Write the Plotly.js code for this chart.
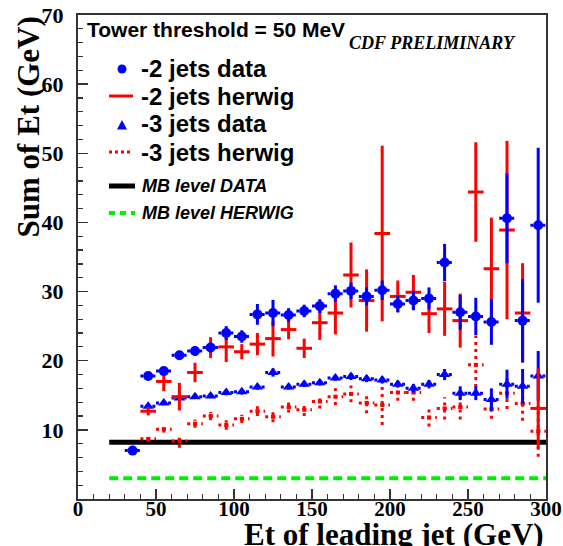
<!DOCTYPE html>
<html>
<head>
<meta charset="utf-8">
<script src="https://cdn.plot.ly/plotly-3.0.1.min.js"></script>
<style>html,body{margin:0;padding:0;background:#fff;}#chart{width:563px;height:546px;}</style>
</head>
<body>
<div id="chart"></div>
<script>
// ---- data ----
var xJets2Data = [35,45,55,65,75,85,95,105,115,125,135,145,155,165,175,185,195,205,215,225,235,245,255,265,275,285,295];
var jets2Data = [7.0,17.8,18.5,20.8,21.4,21.9,24.0,23.5,26.7,26.9,26.6,27.2,27.9,29.7,30.1,29.3,30.2,28.2,28.7,29.0,34.2,27.0,26.4,25.6,40.6,25.8,39.6];
var jets2DataErr = [0.5,0.5,0.6,0.6,0.7,0.7,1.0,0.9,1.5,1.9,1.0,0.9,1.0,1.2,1.2,1.3,1.4,1.2,1.4,1.6,2.7,2.5,2.7,3.3,6.5,6.0,11.2];

var xBins = [45,55,65,75,85,95,105,115,125,135,145,155,165,175,185,195,205,215,225,235,245,255,265,275,285,295];
var jets2Herwig = [12.7,17.0,14.8,18.3,21.9,22.0,21.3,22.4,23.2,24.5,21.8,25.5,26.9,32.4,28.7,38.4,29.3,29.9,26.8,27.5,25.8,44.4,33.3,38.9,26.9,13.1];
var jets2HerwigErr = [0.6,1.4,2.0,1.4,1.5,2.2,1.1,1.6,2.6,1.4,1.4,2.5,3.1,4.7,4.5,12.7,2.3,2.5,2.8,3.9,3.9,7.2,7.4,12.9,7.2,5.8];

var jets3Data = [13.4,13.9,14.6,14.8,14.9,15.4,15.5,16.2,18.3,16.2,16.6,16.8,17.5,17.7,17.4,17.2,16.6,16.0,16.6,18.0,15.3,15.3,14.4,16.6,16.3,17.8];
var jets3DataErr = [0.3,0.3,0.3,0.3,0.3,0.4,0.4,0.4,0.6,0.4,0.4,0.4,0.4,0.5,0.5,0.5,0.5,0.6,0.6,0.8,1.0,1.0,1.6,2.1,2.5,3.6];

var jets3Herwig = [8.7,10.1,8.4,10.9,12.0,10.7,11.6,12.7,11.9,13.3,12.9,14.1,14.8,15.2,13.9,13.6,15.4,15.4,11.8,13.1,13.3,19.4,13.0,15.3,13.8,9.8];
var jets3HerwigErr = [0.4,0.5,1.0,0.6,0.6,0.7,0.6,0.7,0.8,0.8,0.9,1.0,1.2,1.2,1.5,2.9,1.2,1.2,1.3,1.6,1.8,4.2,1.4,2.3,2.5,3.7];

var binHalfWidth = 5;
var mbX = [20, 300];
var mbLevelData = [8.2, 8.2];
var mbLevelHerwig = [3.0, 3.0];

var xTickVals = [0,50,100,150,200,250,300];
var yTickVals = [10,20,30,40,50,60,70];

// ---- helpers building segment paths from the data ----
function hSegs(xs, ys, half){
  var X=[],Y=[];
  for(var i=0;i<xs.length;i++){X.push(xs[i]-half,xs[i]+half,null);Y.push(ys[i],ys[i],null);}
  return {x:X,y:Y};
}
function vSegs(xs, ys, errs){
  var X=[],Y=[];
  for(var i=0;i<xs.length;i++){X.push(xs[i],xs[i],null);Y.push(ys[i]-errs[i],ys[i]+errs[i],null);}
  return {x:X,y:Y};
}

var BLUE='#0000ff', RED='#ff0000';

var h2 = hSegs(xJets2Data, jets2Data, binHalfWidth);
var h3 = hSegs(xBins, jets3Data, binHalfWidth);
var hh3 = hSegs(xBins, jets3Herwig, binHalfWidth);
var vh3 = vSegs(xBins, jets3Herwig, jets3HerwigErr);

var traces = [
  {x:mbX, y:mbLevelHerwig, mode:'lines', name:'MB level HERWIG', line:{color:'#00ee00', width:4, dash:'9px,5px'}},
  {x:mbX, y:mbLevelData, mode:'lines', name:'MB level DATA', line:{color:'#000000', width:5}},
  {x:hh3.x.concat(vh3.x), y:hh3.y.concat(vh3.y), mode:'lines', name:'-3 jets herwig bars', line:{color:RED, width:3, dash:'3px,4px'}, connectgaps:false},
  {x:xBins, y:jets3Herwig, mode:'markers', name:'-3 jets herwig', marker:{symbol:'square', size:4, color:RED}},
  {x:h3.x, y:h3.y, mode:'lines', name:'-3 jets data bars', line:{color:BLUE, width:3, dash:'3px,3px'}},
  {x:xBins, y:jets3Data, mode:'markers', name:'-3 jets data', marker:{symbol:'triangle-up', size:10, color:BLUE},
   error_y:{type:'data', array:jets3DataErr, color:BLUE, thickness:3, width:0}},
  {x:xBins, y:jets2Herwig, mode:'markers', name:'-2 jets herwig', marker:{size:1, color:RED, opacity:0},
   error_x:{type:'constant', value:binHalfWidth, color:RED, thickness:3, width:0},
   error_y:{type:'data', array:jets2HerwigErr, color:RED, thickness:3, width:0}},
  {x:h2.x, y:h2.y, mode:'lines', name:'-2 jets data bars', line:{color:BLUE, width:3, dash:'3px,3px'}},
  {x:xJets2Data, y:jets2Data, mode:'markers', name:'-2 jets data', marker:{symbol:'circle', size:10, color:BLUE},
   error_y:{type:'data', array:jets2DataErr, color:BLUE, thickness:3, width:0}}
];

// pixel -> paper helpers for legend placement
var L=78, T=15, PW=468, PH=484;
function px(p){return (p-L)/PW;}
function py(p){return (T+PH-p)/PH;}

var sans = 'Liberation Sans, Arial, sans-serif';
var serif = 'Liberation Serif, Times New Roman, serif';

function txt(t, x, y, size, italic, family){
  return {text:t, xref:'paper', yref:'paper', x:px(x), y:py(y), xanchor:'left', yanchor:'middle', showarrow:false,
    font:{family:family||sans, size:size, color:'#000', weight:'bold', style:italic?'italic':'normal'}};
}

var annotations = [
  txt('Tower threshold = 50 MeV', 85, 29, 21),
  txt('CDF PRELIMINARY', 347, 43, 18, true, serif),
  txt('-2 jets data', 139, 69, 24),
  txt('-2 jets herwig', 139, 96, 24),
  txt('-3 jets data', 139, 124, 24),
  txt('-3 jets herwig', 139, 152, 24),
  txt('MB level DATA', 140, 186, 18, true),
  txt('MB level HERWIG', 140, 213, 18, true),
  {text:'Et of leading jet (GeV)', xref:'paper', yref:'paper', x:1.0, y:py(534), xanchor:'right', yanchor:'middle', showarrow:false,
   font:{family:serif, size:31, color:'#000', weight:'bold'}},
  {text:'Sum of Et (GeV)', xref:'paper', yref:'paper', x:px(28), y:1.0, xanchor:'center', yanchor:'top', textangle:-90, showarrow:false,
   font:{family:serif, size:31, color:'#000', weight:'bold'}}
];

var tri = 'M '+px(117)+' '+py(129.5)+' L '+px(127)+' '+py(129.5)+' L '+px(122)+' '+py(120)+' Z';
var shapes = [
  {type:'circle', xref:'paper', yref:'paper', x0:px(117.5), x1:px(126.5), y0:py(73.5), y1:py(64.5), fillcolor:BLUE, line:{width:0}},
  {type:'line', xref:'paper', yref:'paper', x0:px(109), x1:px(133), y0:py(96), y1:py(96), line:{color:RED, width:3}},
  {type:'path', xref:'paper', yref:'paper', path:tri, fillcolor:BLUE, line:{width:0}},
  {type:'line', xref:'paper', yref:'paper', x0:px(109), x1:px(133), y0:py(152), y1:py(152), line:{color:RED, width:3, dash:'3px,3px'}},
  {type:'line', xref:'paper', yref:'paper', x0:px(109), x1:px(135), y0:py(186), y1:py(186), line:{color:'#000', width:5}},
  {type:'line', xref:'paper', yref:'paper', x0:px(109), x1:px(135), y0:py(213), y1:py(213), line:{color:'#00ee00', width:4, dash:'6px,5px'}}
];

var layout = {
  width:563, height:546,
  margin:{l:78, r:17, t:15, b:47},
  paper_bgcolor:'#fff', plot_bgcolor:'#fff',
  showlegend:false,
  xaxis:{range:[0,300], tickvals:xTickVals, ticks:'inside', ticklen:10, tickwidth:1.5, tickcolor:'#333',
    minor:{dtick:10, ticks:'inside', ticklen:5, tickwidth:1.2, tickcolor:'#333'},
    showline:true, linecolor:'#333', linewidth:2, mirror:true, showgrid:false, zeroline:false,
    ticklabelstandoff:-10,
    tickfont:{family:serif, size:21, color:'#000', weight:'bold'}},
  yaxis:{range:[0,70], tickvals:yTickVals, ticks:'inside', ticklen:10, tickwidth:1.5, tickcolor:'#333',
    minor:{dtick:2, ticks:'inside', ticklen:5, tickwidth:1.2, tickcolor:'#333'},
    showline:true, linecolor:'#333', linewidth:2, mirror:true, showgrid:false, zeroline:false,
    ticklabelstandoff:8,
    tickfont:{family:serif, size:22, color:'#000', weight:'bold'}},
  annotations:annotations,
  shapes:shapes
};

Plotly.newPlot('chart', traces, layout, {displayModeBar:false, staticPlot:true});
</script>
</body>
</html>
